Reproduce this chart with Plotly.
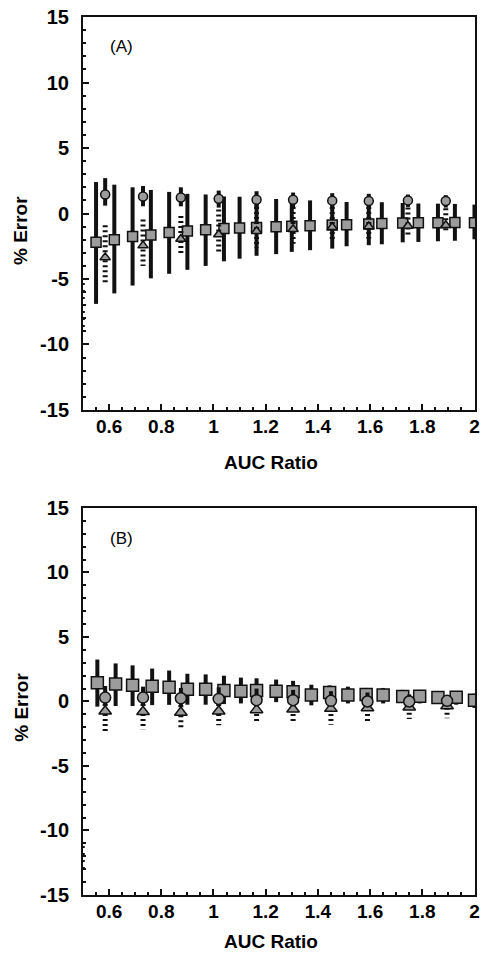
import plotly.graph_objects as go

# ---- data -------------------------------------------------------------
# panel A: squares (long solid bars)
sq_x_a = [0.55, 0.62, 0.69, 0.76, 0.83, 0.90, 0.97, 1.04, 1.10, 1.165, 1.24,
          1.30, 1.37, 1.455, 1.51, 1.595, 1.645, 1.725, 1.785, 1.86, 1.925, 2.0]
sq_y_a = [-2.2, -2.0, -1.75, -1.65, -1.45, -1.33, -1.25, -1.15, -1.1, -1.07, -1.02,
          -0.98, -0.93, -0.88, -0.86, -0.8, -0.77, -0.73, -0.71, -0.7, -0.68, -0.7]
sq_hi_a = [2.4, 2.2, 2.0, 1.8, 1.65, 1.5, 1.45, 1.3, 1.28, 1.2, 1.11,
           1.05, 1.0, 0.95, 0.88, 0.86, 0.86, 0.8, 0.76, 0.75, 0.73, 0.68]
sq_lo_a = [-6.9, -6.1, -5.5, -4.95, -4.6, -4.3, -4.0, -3.65, -3.45, -3.23, -3.1,
           -2.93, -2.8, -2.68, -2.5, -2.42, -2.35, -2.2, -2.17, -2.12, -2.08, -1.97]

# panel A: circles (short solid bars) and triangles (dotted bars)
ci_x_a = [0.585, 0.73, 0.875, 1.02, 1.165, 1.305, 1.455, 1.595, 1.745, 1.89]
ci_y_a = [1.45, 1.3, 1.22, 1.12, 1.05, 1.05, 0.98, 0.95, 1.0, 0.95]
ci_hi_a = [2.7, 2.1, 2.0, 1.75, 1.7, 1.6, 1.55, 1.5, 1.45, 1.4]
ci_lo_a = [0.6, 0.55, 0.55, 0.45, 0.45, 0.45, 0.4, 0.4, 0.5, 0.45]
tr_y_a = [-3.35, -2.45, -1.95, -1.6, -1.35, -1.2, -1.05, -1.0, -0.95, -0.9]
tr_hi_a = [-0.9, -0.45, -0.2, 0.3, 0.5, 0.5, 0.5, 0.5, 0.45, 0.4]
tr_lo_a = [-5.3, -4.0, -3.2, -2.9, -2.6, -2.3, -2.1, -1.9, -1.65, -1.5]
edge_a = [-5.3, -9.0]

# panel B
sq_x_b = [0.555, 0.625, 0.69, 0.765, 0.83, 0.90, 0.97, 1.04, 1.105, 1.165, 1.24,
          1.305, 1.375, 1.445, 1.515, 1.585, 1.65, 1.725, 1.79, 1.86, 1.93, 2.0]
sq_y_b = [1.45, 1.35, 1.25, 1.18, 1.1, 0.95, 0.95, 0.85, 0.8, 0.85, 0.8,
          0.75, 0.5, 0.7, 0.5, 0.55, 0.5, 0.38, 0.4, 0.3, 0.32, 0.1]
sq_hi_b = [3.25, 2.95, 2.8, 2.55, 2.4, 2.15, 2.1, 2.0, 1.85, 1.8, 1.7,
           1.6, 1.3, 1.25, 1.15, 1.05, 1.05, 0.9, 0.9, 0.8, 0.75, 0.6]
sq_lo_b = [-0.4, -0.35, -0.35, -0.28, -0.26, -0.25, -0.25, -0.2, -0.15, -0.2, -0.05,
           -0.1, -0.3, -0.15, -0.15, -0.1, -0.15, -0.1, -0.15, -0.15, -0.25, -0.5]

ci_x_b = [0.585, 0.73, 0.875, 1.02, 1.165, 1.305, 1.45, 1.59, 1.75, 1.895]
ci_y_b = [0.3, 0.3, 0.25, 0.2, 0.1, 0.1, 0.05, 0.0, 0.0, 0.05]
ci_hi_b = [1.2, 1.15, 1.05, 1.1, 1.0, 0.9, 0.8, 0.7, 0.55, 0.5]
ci_lo_b = [-0.3, -0.3, -0.35, -0.3, -0.35, -0.3, -0.3, -0.3, -0.3, -0.25]
tr_y_b = [-0.75, -0.8, -0.85, -0.75, -0.65, -0.6, -0.55, -0.5, -0.45, -0.35]
tr_hi_b = [-0.2, -0.2, -0.3, -0.2, -0.2, -0.2, -0.2, -0.2, -0.1, -0.1]
tr_lo_b = [-2.3, -2.15, -2.0, -1.85, -1.55, -1.65, -1.8, -1.6, -1.35, -1.3]
edge_b = [-11.2, -13.3]

x_ticks = [0.6, 0.8, 1, 1.2, 1.4, 1.6, 1.8, 2]
x_labels = ["0.6", "0.8", "1", "1.2", "1.4", "1.6", "1.8", "2"]
y_ticks = [-15, -10, -5, 0, 5, 10, 15]
y_labels = ["-15", "-10", "-5", "0", "5", "10", "15"]

FILL = "#9c9c9c"
INK = "#111111"
FONT = "Liberation Sans, Arial, sans-serif"


def bars(y, hi, lo):
    return dict(type="data", symmetric=False,
                array=[h - v for h, v in zip(hi, y)],
                arrayminus=[v - l for v, l in zip(y, lo)])


def dotted(xs, hi, lo):
    px, py = [], []
    for x, h, l in zip(xs, hi, lo):
        px += [x, x, None]
        py += [h, l, None]
    return px, py


def add_panel(fig, ax, sx, sy, shi, slo, cx, cy, chi, clo, ty, thi, tlo, edge, msize):
    xa, ya = ("x", "y") if ax == 1 else ("x2", "y2")
    # squares with long bars
    fig.add_trace(go.Scatter(
        x=sx, y=sy, mode="markers", xaxis=xa, yaxis=ya,
        marker=dict(symbol="square", size=msize, color=FILL,
                    line=dict(color=INK, width=1.5)),
        error_y=dict(**bars(sy, shi, slo), thickness=4, width=0, color=INK),
    ))
    # triangle dotted ranges
    px, py = dotted(cx, thi, tlo)
    fig.add_trace(go.Scatter(
        x=px, y=py, mode="lines", xaxis=xa, yaxis=ya,
        line=dict(color=INK, width=5, dash="2px,3px"),
    ))
    # fragment on the left axis
    fig.add_trace(go.Scatter(
        x=[0.503, 0.503], y=edge, mode="lines", xaxis=xa, yaxis=ya,
        line=dict(color=INK, width=2, dash="2px,5px"),
    ))
    fig.add_trace(go.Scatter(
        x=cx, y=ty, mode="markers", xaxis=xa, yaxis=ya,
        marker=dict(symbol="triangle-up", size=msize - 1, color=FILL,
                    line=dict(color=INK, width=1.5)),
    ))
    # circles with short solid bars
    fig.add_trace(go.Scatter(
        x=cx, y=cy, mode="markers", xaxis=xa, yaxis=ya,
        marker=dict(symbol="circle", size=msize - 1, color=FILL,
                    line=dict(color=INK, width=1.5)),
        error_y=dict(**bars(cy, chi, clo), thickness=4, width=0, color=INK),
    ))


fig = go.Figure()
add_panel(fig, 1, sq_x_a, sq_y_a, sq_hi_a, sq_lo_a, ci_x_a, ci_y_a, ci_hi_a,
          ci_lo_a, tr_y_a, tr_hi_a, tr_lo_a, edge_a, 10)
add_panel(fig, 2, sq_x_b, sq_y_b, sq_hi_b, sq_lo_b, ci_x_b, ci_y_b, ci_hi_b,
          ci_lo_b, tr_y_b, tr_hi_b, tr_lo_b, edge_b, 12)

xaxis_style = dict(
    range=[0.5, 2.002], tickvals=x_ticks, ticktext=x_labels,
    ticks="inside", ticklen=6, tickwidth=1.5, tickcolor=INK,
    minor=dict(ticks="inside", ticklen=3, dtick=0.05, tick0=0.5, tickcolor=INK),
    showline=True, linewidth=2, linecolor=INK, mirror=True,
    showgrid=False, zeroline=False, ticklabelstandoff=-2,
    tickfont=dict(family=FONT, size=19, color="black", weight="bold"),
)
yaxis_style = dict(
    range=[-15, 15], tickvals=y_ticks, ticktext=y_labels,
    ticks="inside", ticklen=6, tickwidth=1.5, tickcolor=INK,
    minor=dict(ticks="inside", ticklen=3, dtick=1, tickcolor=INK),
    showline=True, linewidth=2, linecolor=INK, mirror=True,
    showgrid=False, zeroline=False, ticklabelstandoff=8,
    tickfont=dict(family=FONT, size=20, color="black", weight="bold"),
)

title_font = dict(family=FONT, size=19, color="black", weight="bold")
label_font = dict(family=FONT, size=17, color="black")


def note(text, x, y, font, angle=0):
    return dict(text=text, x=x, y=y, xref="paper", yref="paper", showarrow=False,
                xanchor="center", yanchor="middle", textangle=angle, font=font)


fig.update_layout(
    width=486, height=960,
    margin=dict(l=83, r=6, t=17, b=65),
    paper_bgcolor="white", plot_bgcolor="white",
    showlegend=False,
    xaxis=dict(**xaxis_style, domain=[0, 1], anchor="y"),
    yaxis=dict(**yaxis_style, domain=[0.5524, 1.0], anchor="x"),
    xaxis2=dict(**xaxis_style, domain=[0, 1], anchor="y2"),
    yaxis2=dict(**yaxis_style, domain=[0.0, 0.4408], anchor="x2"),
    annotations=[
        note("(A)", 0.098, 0.966, label_font),
        note("(B)", 0.098, 0.4066, label_font),
        note("% Error", -0.159, 0.757, title_font, -90),
        note("% Error", -0.159, 0.214, title_font, -90),
        note("AUC Ratio", 0.479, 0.493, title_font),
        note("AUC Ratio", 0.479, -0.053, title_font),
    ],
)

# drop the browser's default page margin so the figure fills the window
fig.write_html(
    "out.html",
    config={"displayModeBar": False},
    post_script="document.body.style.margin='0';document.body.style.overflow='hidden';",
)
